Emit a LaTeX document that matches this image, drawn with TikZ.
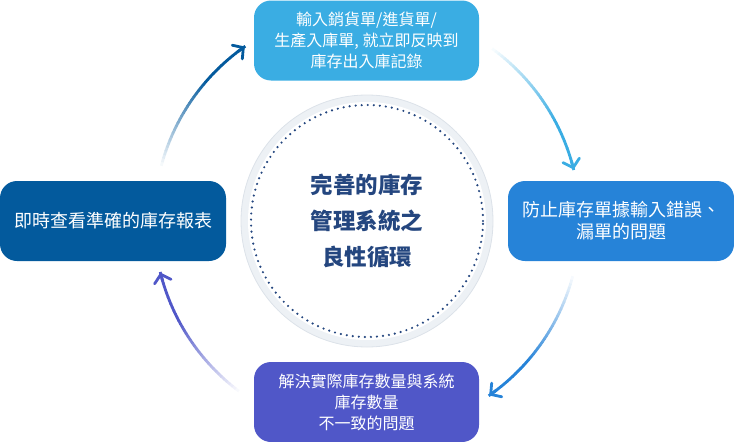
\documentclass[tikz,border=0pt]{standalone}
\usepackage{fontspec}
\setmainfont{Noto Sans CJK TC}
\usetikzlibrary{arrows.meta}
\definecolor{topc}{HTML}{3AADE3}
\definecolor{rightc}{HTML}{2683D8}
\definecolor{botc}{HTML}{5057C8}
\definecolor{leftc}{HTML}{035A9D}
\definecolor{navy}{HTML}{24467F}
\definecolor{ringfill}{HTML}{EDF1F5}
\definecolor{ringline}{HTML}{DCE2E9}
\newcommand\gradarc[3]{%
  \foreach \i in {0,...,39}{%
    \pgfmathsetmacro\aa{#1+(#2-#1)*\i/40}%
    \pgfmathsetmacro\ab{#1+(#2-#1)*(\i+1.15)/40}%
    \pgfmathsetmacro\pp{min(100,\i*100/26)}%
    \draw[draw=#3!\pp!white, line width=2.8pt]
      ([shift={(\aa:213)}]c) -- ([shift={(\ab:213)}]c);
  }%
  \pgfmathsetmacro\ac{#2-(#2-#1)*0.06}%
  \coordinate (arrs) at ([shift={(\ac:213)}]c);
  \coordinate (arre) at ([shift={(#2:213)}]c);
  \draw[draw=#3, line width=2.8pt, line cap=round,
    -{Straight Barb[length=7.5pt,width=17pt,line cap=round]}] (arrs) -- (arre);
}
\tikzset{
  box/.style={rounded corners=17pt, minimum width=225pt, minimum height=80pt,
    text=white, align=center, inner sep=0pt},
  smallt/.style={font=\fontsize{16}{21}\selectfont},
  bigt/.style={font=\fontsize{18}{22}\selectfont},
}
\begin{document}
\begin{tikzpicture}[x=1pt,y=-1pt]
\useasboundingbox (0,0) rectangle (734,442);
\coordinate (c) at (367,221);
% central circle
\node[circle, fill=ringfill, draw=ringline, line width=0.8pt, minimum size=252pt, inner sep=0pt] (ring) at (c) {};
\node[circle, fill=white, minimum size=238pt, inner sep=0pt] (disk) at (c) {};
\node[circle, draw=navy, line width=2.4pt, dash pattern=on 0pt off 6.05pt, line cap=round, minimum size=232pt, inner sep=0pt] (dots) at (c) {};
\node[text=navy, align=center, font=\fontsize{22.5}{36}\selectfont\bfseries] (ctext) at (367,221) {完善的庫存\\管理系統之\\良性循環};
% boxes
\node[box, fill=topc, smallt] (top) at (366.5,40.5) {輸入銷貨單/進貨單/\\生產入庫單, 就立即反映到\\庫存出入庫記錄};
\node[box, fill=rightc, bigt, minimum width=226pt] (right) at (621,221) {防止庫存單據輸入錯誤、\\漏單的問題};
\node[box, fill=botc, smallt] (bot) at (366.5,402) {解決實際庫存數量與系統\\庫存數量\\不一致的問題};
\node[box, fill=leftc, bigt, minimum width=226pt] (left) at (113,221) {即時查看準確的庫存報表};
% arrows
\gradarc{-166}{-125}{leftc}
\gradarc{-55}{-14}{topc}
\gradarc{14}{55}{rightc}
\gradarc{126}{166}{botc}
\end{tikzpicture}
\end{document}
